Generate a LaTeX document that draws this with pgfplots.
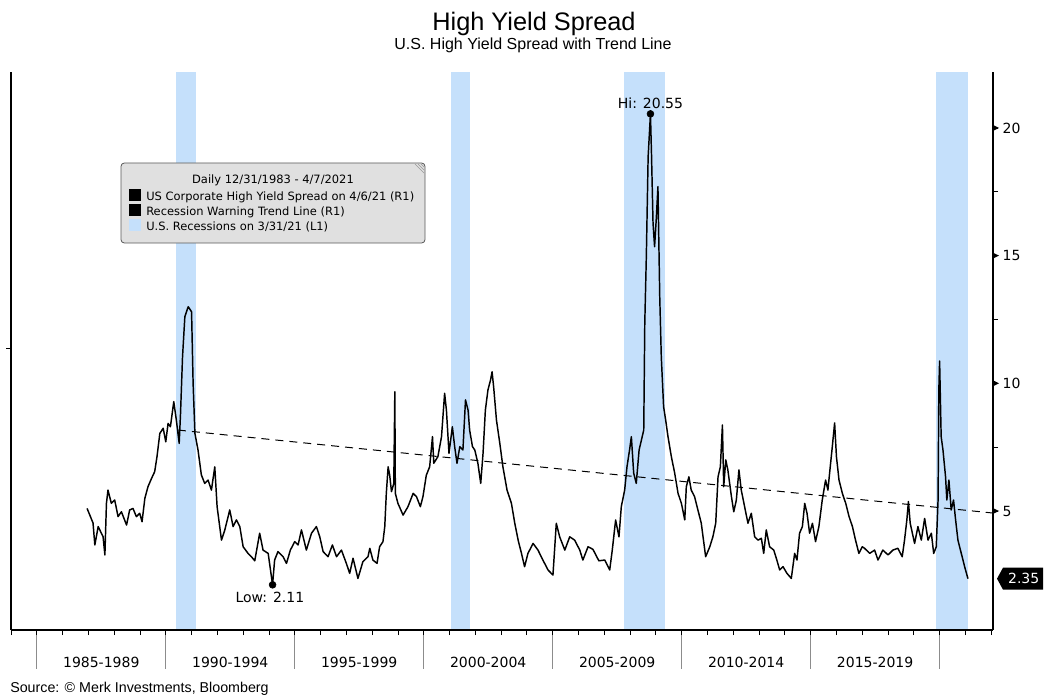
\documentclass[border=0pt]{standalone}
\usepackage{pgfplots}
\pgfplotsset{compat=1.18}
\usepackage{fontspec}
\setmainfont{Liberation Sans}
\newfontfamily\tah{DejaVu Sans}
\definecolor{recblue}{RGB}{197,224,251}
\definecolor{legbg}{RGB}{224,224,224}

\begin{document}
\begin{tikzpicture}
\path[use as bounding box] (0pt,0pt) rectangle (791.25pt,-521.25pt);
\begin{axis}[
  at={(8.25pt,-472.5pt)}, anchor=south west,
  scale only axis, width=736.5pt, height=418.5pt,
  xmin=1984, xmax=2022.07, ymin=0.34, ymax=22.19,
  clip=false, axis on top=true,
  axis x line*=bottom, axis y line*=right,
  axis line style={-, line width=1.1pt, black},
  tick align=outside,
  major tick length=3.75pt, minor tick length=3.75pt,
  tick style={black, line width=0.6pt},
  xtick={1987.5,1992.5,1997.5,2002.5,2007.5,2012.5,2017.5},
  xticklabels={1985-1989,1990-1994,1995-1999,2000-2004,2005-2009,2010-2014,2015-2019},
  minor xtick={1984,1985,...,2022},
  major x tick style={draw=none},
  ytick={5,10,15,20},
  minor ytick={7.5,12.5,17.5},
  xticklabel style={font=\tah\fontsize{10.5}{12}\selectfont, anchor=base, yshift=-24pt},
  yticklabel style={font=\tah\fontsize{10.5}{12}\selectfont},
  /pgf/number format/assume math mode=true,
]
% recessions
\addplot[fill=recblue, draw=none] coordinates {(1990.39,0.34) (1990.39,22.19) (1991.17,22.19) (1991.17,0.34)} -- cycle;
\addplot[fill=recblue, draw=none] coordinates {(2001.04,0.34) (2001.04,22.19) (2001.79,22.19) (2001.79,0.34)} -- cycle;
\addplot[fill=recblue, draw=none] coordinates {(2007.76,0.34) (2007.76,22.19) (2009.35,22.19) (2009.35,0.34)} -- cycle;
\addplot[fill=recblue, draw=none] coordinates {(2019.86,0.34) (2019.86,22.19) (2021.10,22.19) (2021.10,0.34)} -- cycle;
% trend line
\addplot[black, line width=0.75pt, dash pattern=on 6pt off 4.5pt] coordinates {(1990.47,8.17) (2022.07,4.92)};
% spread
\addplot[black, line width=1.1pt, line join=round] coordinates {
(1986.95,5.10) (1987.18,4.53) (1987.25,3.67) (1987.38,4.39) (1987.57,3.99) (1987.64,3.28)
(1987.70,5.30) (1987.76,5.82) (1987.89,5.30) (1988.02,5.43) (1988.15,4.78) (1988.28,4.97)
(1988.48,4.45) (1988.60,5.04) (1988.73,5.10) (1988.86,4.78) (1988.99,4.91) (1989.08,4.58)
(1989.19,5.50) (1989.31,5.95) (1989.45,6.28) (1989.57,6.54) (1989.66,7.13) (1989.77,8.04)
(1989.90,8.24) (1990.00,7.71) (1990.09,8.43) (1990.18,8.30) (1990.31,9.28) (1990.41,8.56)
(1990.52,7.65) (1990.57,8.76) (1990.65,11.04) (1990.74,12.61) (1990.87,13.00) (1991.00,12.80)
(1991.06,10.00) (1991.13,8.04) (1991.25,7.39) (1991.38,6.41) (1991.51,6.08) (1991.64,6.21)
(1991.77,5.82) (1991.90,6.73) (1991.99,5.17) (1992.16,3.86) (1992.29,4.26) (1992.48,5.04)
(1992.61,4.39) (1992.74,4.65) (1992.87,4.39) (1993.00,3.60) (1993.19,3.34) (1993.32,3.21)
(1993.45,3.05) (1993.64,4.13) (1993.77,3.47) (1993.97,3.34) (1994.06,2.69) (1994.14,2.11)
(1994.22,3.08) (1994.35,3.41) (1994.55,3.21) (1994.68,2.95) (1994.83,3.47) (1995.00,3.80)
(1995.13,3.67) (1995.26,4.26) (1995.45,3.47) (1995.65,4.13) (1995.84,4.39) (1995.97,3.99)
(1996.10,3.41) (1996.29,3.21) (1996.46,3.67) (1996.62,3.21) (1996.81,3.47) (1997.00,2.95)
(1997.13,2.56) (1997.26,3.15) (1997.45,2.36) (1997.64,3.01) (1997.84,3.21) (1997.91,3.54)
(1998.03,3.08) (1998.19,2.95) (1998.29,3.60) (1998.42,3.80) (1998.49,4.39) (1998.55,5.69)
(1998.62,6.73) (1998.68,6.41) (1998.75,5.76) (1998.84,6.08) (1998.88,9.67) (1998.90,5.69)
(1999.00,5.30) (1999.20,4.84) (1999.39,5.17) (1999.59,5.69) (1999.72,5.56) (1999.87,5.17)
(1999.97,5.56) (2000.10,6.40) (2000.23,6.73) (2000.34,7.91) (2000.39,6.87) (2000.55,7.13)
(2000.69,7.91) (2000.81,9.61) (2000.88,8.95) (2000.98,7.26) (2001.11,8.30) (2001.20,7.52)
(2001.29,6.87) (2001.40,7.52) (2001.52,7.39) (2001.62,9.35) (2001.72,8.95) (2001.78,8.17)
(2001.89,7.52) (2001.98,7.39) (2002.10,6.87) (2002.21,6.08) (2002.30,7.26) (2002.39,8.95)
(2002.49,9.74) (2002.59,10.13) (2002.65,10.45) (2002.71,9.87) (2002.82,8.56) (2002.95,7.65)
(2003.07,6.73) (2003.23,5.82) (2003.40,5.30) (2003.53,4.52) (2003.66,3.86) (2003.79,3.34)
(2003.91,2.82) (2004.04,3.34) (2004.24,3.73) (2004.43,3.47) (2004.62,3.08) (2004.82,2.69)
(2005.01,2.49) (2005.14,4.52) (2005.27,3.99) (2005.47,3.47) (2005.66,3.99) (2005.85,3.86)
(2006.05,3.47) (2006.17,3.08) (2006.37,3.60) (2006.56,3.50) (2006.79,3.05) (2007.02,3.08)
(2007.21,2.69) (2007.31,3.47) (2007.44,4.65) (2007.57,3.99) (2007.66,5.17) (2007.79,5.82)
(2007.88,6.73) (2007.98,7.39) (2008.05,7.91) (2008.14,6.48) (2008.24,6.08) (2008.35,7.39)
(2008.44,7.78) (2008.53,8.17) (2008.57,12.35) (2008.63,14.96) (2008.70,18.87) (2008.79,20.55)
(2008.83,19.00) (2008.89,16.27) (2008.95,15.35) (2009.02,16.52) (2009.08,17.70) (2009.15,13.39)
(2009.21,11.04) (2009.30,9.08) (2009.38,8.56) (2009.47,7.91) (2009.60,7.13) (2009.73,6.48)
(2009.86,5.69) (2009.99,5.30) (2010.12,4.65) (2010.18,5.95) (2010.28,6.34) (2010.37,5.82)
(2010.50,5.56) (2010.63,5.04) (2010.76,4.52) (2010.93,3.21) (2011.09,3.60) (2011.21,3.99)
(2011.32,4.52) (2011.41,6.34) (2011.50,6.73) (2011.58,8.37) (2011.63,5.95) (2011.71,7.00)
(2011.79,6.61) (2011.93,5.56) (2012.02,4.97) (2012.12,5.43) (2012.22,6.61) (2012.31,5.82)
(2012.44,5.17) (2012.57,4.52) (2012.70,4.91) (2012.83,3.99) (2012.96,3.86) (2013.09,3.93)
(2013.18,3.34) (2013.28,4.26) (2013.41,3.60) (2013.57,3.47) (2013.69,3.08) (2013.80,2.69)
(2013.93,2.82) (2014.08,2.56) (2014.25,2.36) (2014.38,3.34) (2014.47,3.08) (2014.57,4.13)
(2014.68,4.39) (2014.77,5.30) (2014.86,4.91) (2014.96,4.13) (2015.07,4.52) (2015.19,3.80)
(2015.32,4.39) (2015.45,5.43) (2015.58,6.21) (2015.67,5.82) (2015.76,6.73) (2015.84,7.52)
(2015.93,8.45) (2016.00,7.13) (2016.10,6.21) (2016.23,5.69) (2016.36,5.30) (2016.49,4.78)
(2016.62,4.39) (2016.74,3.86) (2016.87,3.34) (2017.00,3.60) (2017.09,3.54) (2017.29,3.34)
(2017.48,3.47) (2017.61,3.08) (2017.80,3.47) (2018.00,3.28) (2018.19,3.47) (2018.38,3.54)
(2018.55,3.21) (2018.64,3.86) (2018.73,4.65) (2018.79,5.37) (2018.86,4.52) (2019.03,3.73)
(2019.16,4.39) (2019.29,3.86) (2019.42,4.71) (2019.55,3.86) (2019.68,4.13) (2019.77,3.34)
(2019.87,3.60) (2019.94,5.43) (2019.97,9.74) (2020.00,10.87) (2020.06,7.91) (2020.13,7.39)
(2020.23,6.34) (2020.28,5.43) (2020.36,6.21) (2020.45,5.04) (2020.54,5.43) (2020.62,4.65)
(2020.71,3.86) (2020.84,3.34) (2020.97,2.82) (2021.06,2.49) (2021.10,2.35)
};
% Hi / Low markers
\addplot[only marks, mark=*, mark size=2.6pt, black] coordinates {(2008.79,20.55) (1994.14,2.11)};
\node[font=\tah\fontsize{10.5}{12}\selectfont, anchor=base, yshift=3.75pt] at (axis cs:2008.79,20.55) {Hi: 20.55};
\node[font=\tah\fontsize{10.5}{12}\selectfont, anchor=base, xshift=-2pt, yshift=-13pt] at (axis cs:1994.14,2.11) {Low: 2.11};
% 5-year dividers below the axis
\pgfplotsinvokeforeach{1985,1990,1995,2000,2005,2010,2015,2020}{
  \draw[black!45, line width=0.5pt] (axis cs:#1,0.34) -- ++(0pt,-29pt);
}
% left axis line and its tick
\draw[line width=1.1pt] (rel axis cs:0,0) -- (rel axis cs:0,1);
\draw[line width=0.6pt] (rel axis cs:0,0.505) -- ++(-3.75pt,0pt);
% right axis tick arrows
\pgfplotsinvokeforeach{5,10,15,20}{
  \fill (axis cs:2022.07,#1) ++(0pt,2.2pt) -- ++(4.5pt,-2.2pt) -- ++(-4.5pt,-2.2pt) -- cycle;
}
% last value tag
\fill (axis cs:2022.07,2.35) ++(3pt,0pt) -- ++(4.5pt,8.25pt) -- ++(30pt,0pt) -- ++(0pt,-16.5pt) -- ++(-30pt,0pt) -- cycle;
\node[font=\tah\fontsize{10.5}{12}\selectfont, text=white, xshift=23pt] at (axis cs:2022.07,2.35) {2.35};
\end{axis}

\begin{scope}[x=0.75pt,y=-0.75pt]
% titles
\node[anchor=base, font=\fontsize{19}{22}\selectfont] at (534,31) {High Yield Spread};
\node[anchor=base, font=\fontsize{12}{14}\selectfont] at (533,50) {U.S. High Yield Spread with Trend Line};
\node[anchor=base west, inner sep=0pt, font=\fontsize{10.7}{12}\selectfont] at (10,692) {Source: © Merk Investments, Bloomberg};
% legend box
\draw[rounded corners=2.5pt, fill=legbg, draw=black!65, line width=0.6pt] (121,163) rectangle (425,243);
\foreach \d in {3,6,9} \draw[black!40, line width=0.4pt] (424-\d,164) -- (424,164+\d);
\node[anchor=base, inner sep=0pt, font=\tah\fontsize{8.6}{10}\selectfont] at (273,184) {Daily 12/31/1983 - 4/7/2021};
\fill[black] (129,189) rectangle (141,201);
\fill[black] (129,204) rectangle (141,216);
\fill[recblue] (129,219) rectangle (141,231);
\node[anchor=base west, inner sep=0pt, font=\tah\fontsize{8.6}{10}\selectfont] at (146,200) {US Corporate High Yield Spread on 4/6/21 (R1)};
\node[anchor=base west, inner sep=0pt, font=\tah\fontsize{8.6}{10}\selectfont] at (146,215) {Recession Warning Trend Line (R1)};
\node[anchor=base west, inner sep=0pt, font=\tah\fontsize{8.6}{10}\selectfont] at (146,230) {U.S. Recessions on 3/31/21 (L1)};
\end{scope}
\end{tikzpicture}
\end{document}
